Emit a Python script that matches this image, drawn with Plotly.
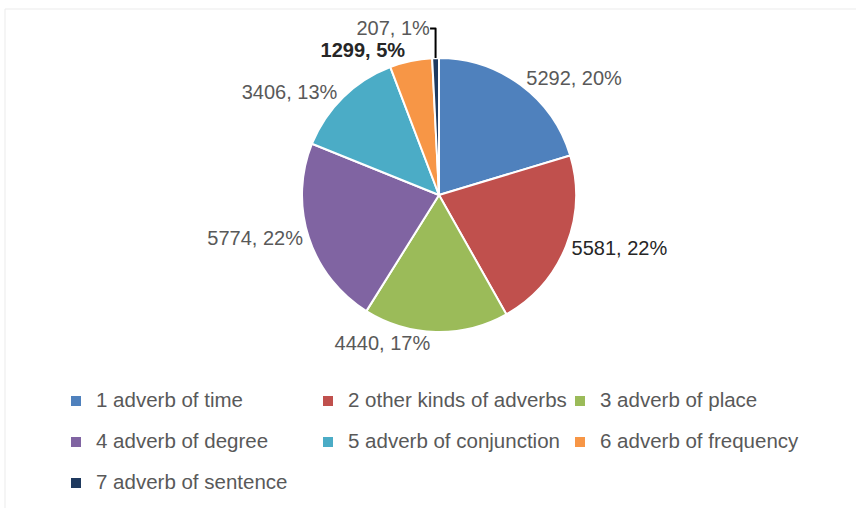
import plotly.graph_objects as go

categories = ["1 adverb of time", "2 other kinds of adverbs", "3 adverb of place",
              "4 adverb of degree", "5 adverb of conjunction", "6 adverb of frequency",
              "7 adverb of sentence"]
values = [5292, 5581, 4440, 5774, 3406, 1299, 207]
percents = [20, 22, 17, 22, 13, 5, 1]
colors = ["#4F81BD", "#C0504D", "#9BBB59", "#8064A2", "#4BACC6", "#F79646", "#1F3A5F"]
label_colors = ["#595959", "#262626", "#595959", "#595959", "#595959", "#262626", "#595959"]
bold = [False, False, False, False, False, True, False]

texts = []
for v, p, b in zip(values, percents, bold):
    t = f"{v}, {p}%"
    texts.append(f"<b>{t}</b>" if b else t)

# empty first line makes each legend row as tall as in the reference;
# the visible text sits on the second line, next to the symbol (valign bottom)
legend_labels = [f' <br><span style="font-size:20.5px">{c}</span>' for c in categories]

W, H = 856, 508
cx, cy, r = 439, 195, 137
FONT = "Liberation Sans, Arial"

fig = go.Figure(go.Pie(
    labels=legend_labels,
    values=values,
    customdata=categories,
    hovertemplate="%{customdata}: %{value} (%{percent})<extra></extra>",
    text=texts,
    textinfo="text",
    textposition="outside",
    textfont=dict(family=FONT, size=20, color=label_colors),
    marker=dict(colors=colors, line=dict(color="white", width=2)),
    sort=False,
    direction="clockwise",
    rotation=0,
    domain=dict(x=[(cx - r) / W, (cx + r) / W], y=[1 - (cy + r) / H, 1 - (cy - r) / H]),
))

fig.update_layout(
    width=W, height=H,
    margin=dict(l=0, r=0, t=0, b=0),
    paper_bgcolor="white",
    plot_bgcolor="white",
    showlegend=True,
    legend=dict(
        orientation="h",
        x=56 / W, xanchor="left",
        y=1 - 366 / H, yanchor="top",
        entrywidth=207, entrywidthmode="pixels",
        valign="bottom",
        font=dict(family=FONT, size=14.6, color="#595959"),
        itemwidth=30,
    ),
    shapes=[dict(type="rect", xref="paper", yref="paper",
                 x0=5 / W, x1=1.05, y0=-0.05, y1=1 - 9 / H,
                 line=dict(color="#EBEBEB", width=1))],
)

fig.write_html("out.html", config={"displayModeBar": False},
               post_script="document.body.style.margin='0';")
